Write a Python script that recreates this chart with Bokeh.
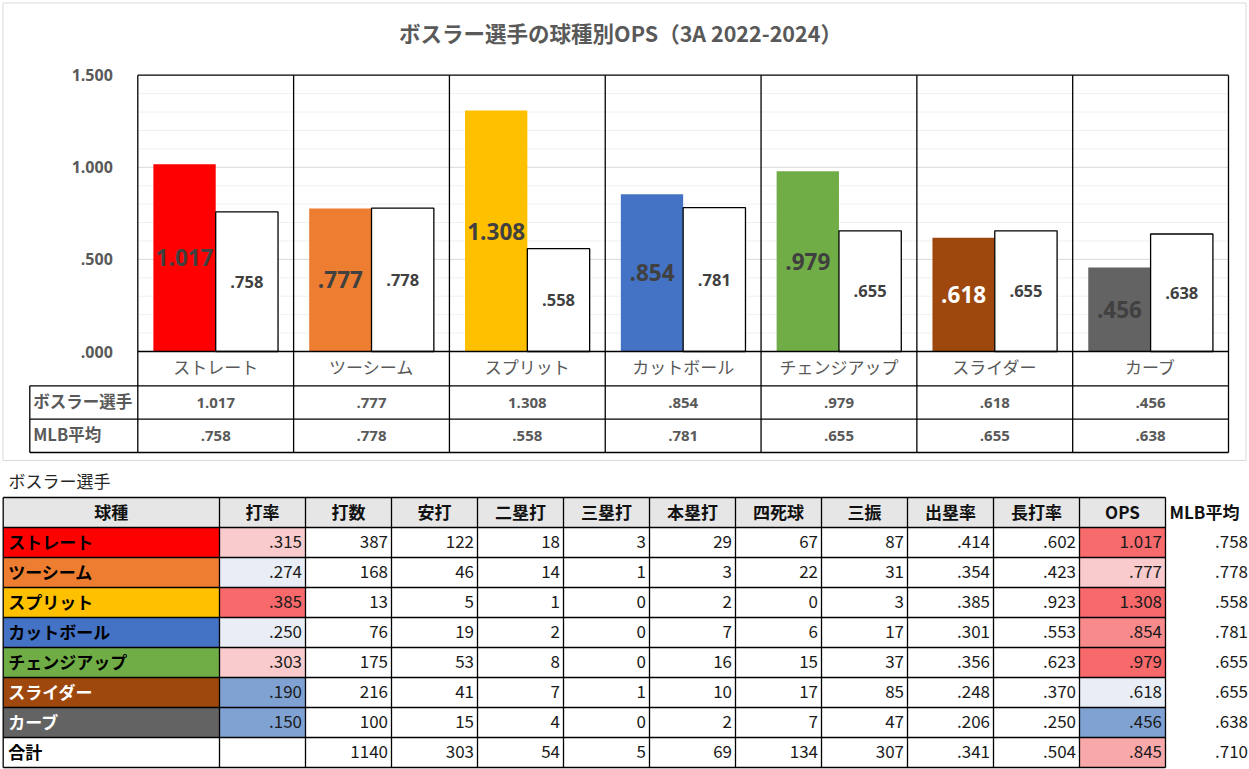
from bokeh.plotting import figure
from bokeh.models import Range1d, LinearAxis, FixedTicker, CustomJSTickFormatter, ColumnDataSource
from bokeh.core.properties import value
from bokeh.embed import file_html
from bokeh.resources import INLINE

# ---------------- data ----------------
title_text = "ボスラー選手の球種別OPS（3A 2022-2024）"
player_name = "ボスラー選手"
mlb_name = "MLB平均"
pitches = ["ストレート", "ツーシーム", "スプリット", "カットボール", "チェンジアップ", "スライダー", "カーブ"]
ops_player = [1.017, 0.777, 1.308, 0.854, 0.979, 0.618, 0.456]
ops_mlb = [0.758, 0.778, 0.558, 0.781, 0.655, 0.655, 0.638]
y_ticks = [0.0, 0.5, 1.0, 1.5]

table_headers = ["球種", "打率", "打数", "安打", "二塁打", "三塁打", "本塁打", "四死球", "三振", "出塁率", "長打率", "OPS"]
avg = [0.315, 0.274, 0.385, 0.250, 0.303, 0.190, 0.150]
at_bats = [387, 168, 13, 76, 175, 216, 100]
hits = [122, 46, 5, 19, 53, 41, 15]
doubles = [18, 14, 1, 2, 8, 7, 4]
triples = [3, 1, 0, 0, 0, 1, 0]
homers = [29, 3, 2, 7, 16, 10, 2]
walks = [67, 22, 0, 6, 15, 17, 7]
strikeouts = [87, 31, 3, 17, 37, 85, 47]
obp = [0.414, 0.354, 0.385, 0.301, 0.356, 0.248, 0.206]
slg = [0.602, 0.423, 0.923, 0.553, 0.623, 0.370, 0.250]
total_label = "合計"
total_row = [None, 1140, 303, 54, 5, 69, 134, 307, 0.341, 0.504, 0.845]
total_mlb = 0.710

# ---------------- styles ----------------
pitch_colors = ["#FF0000", "#ED7D31", "#FFC000", "#4472C4", "#70AD47", "#9E480E", "#636363"]
pitch_text_colors = ["#000000"] * 5 + ["#FFFFFF", "#FFFFFF"]
bar_label_colors = ["#404040"] * 5 + ["#FFFFFF", "#404040"]
avg_fill = ["#F9CBCD", "#E9EEF6", "#F8696B", "#E9EEF6", "#F9CBCD", "#7FA2D3", "#7FA2D3"]
ops_fill = ["#F86B6D", "#F9CBCD", "#F8696B", "#F88A8C", "#F8696B", "#E9EEF6", "#7FA2D3"]
ops_total_fill = "#F9A8AA"
JP = value("Noto Sans CJK JP")
LAT = value("Open Sans")
GREY = "#595959"
DY = -1.5  # baseline nudge for CJK text


def fmt3(v):
    s = f"{v:.3f}"
    return s[1:] if s.startswith("0") else s


# ---------------- canvas (reference pixel space) ----------------
W, H = 1249, 769
REF_W, REF_H = 1249, 769
p = figure(width=W, height=H, x_range=Range1d(0, REF_W), y_range=Range1d(REF_H, 0),
           x_axis_type=None, y_axis_type=None, toolbar_location=None,
           output_backend="svg", min_border=0, outline_line_color=None,
           background_fill_color="white", border_fill_color="white")

# chart scales
PLOT_L, PLOT_R = 137.3, 1228.0
ZERO_Y, TOP_Y = 351.0, 74.7
YMAX = y_ticks[-1]
n = len(pitches)
cx = (PLOT_R - PLOT_L) / n
ky = (ZERO_Y - TOP_Y) / YMAX
p.extra_x_ranges = {"cat": Range1d(-PLOT_L / cx, (REF_W - PLOT_L) / cx)}
p.extra_y_ranges = {"ops": Range1d((ZERO_Y - REF_H) / ky, ZERO_Y / ky)}

# outer chart border
p.quad(left=[2.5], right=[1245.5], top=[2.5], bottom=[460], fill_color=None,
       line_color="#D9D9D9", line_width=1)

# title
p.text(x=[620], y=[33 + DY], text=[title_text], text_align="center", text_baseline="middle",
       text_font=JP, text_font_style="bold", text_font_size="21.5px", text_color=GREY)

# gridlines
minor = [round(0.1 * k, 1) for k in range(1, 15) if k % 5 != 0]
major = [t for t in y_ticks if 0 < t < YMAX]
p.segment(x0=[0] * len(minor), x1=[n] * len(minor), y0=minor, y1=minor, line_color="#F0F0F0",
          line_width=1, x_range_name="cat", y_range_name="ops")
p.segment(x0=[0] * len(major), x1=[n] * len(major), y0=major, y1=major, line_color="#D9D9D9",
          line_width=1, x_range_name="cat", y_range_name="ops")

# bars
idx = list(range(n))
src = ColumnDataSource(dict(
    xp=[i + 0.3 for i in idx], xm=[i + 0.7 for i in idx],
    op=ops_player, om=ops_mlb, color=pitch_colors,
    hp=[v / 2 for v in ops_player], hm=[v / 2 for v in ops_mlb],
    lp=[fmt3(v) for v in ops_player], lm=[fmt3(v) for v in ops_mlb],
    lc=bar_label_colors, cat=[i + 0.5 for i in idx], name=pitches))
p.vbar(x="xp", width=0.4, top="op", bottom=0, fill_color="color", line_color=None,
       source=src, x_range_name="cat", y_range_name="ops")
p.vbar(x="xm", width=0.4, top="om", bottom=0, fill_color="white", line_color="#000000",
       line_width=1.3, source=src, x_range_name="cat", y_range_name="ops")
p.text(x="xp", y="hp", text="lp", text_color="lc", text_align="center", text_baseline="middle",
       text_font=LAT, text_font_style="bold", text_font_size="22.5px", source=src,
       x_range_name="cat", y_range_name="ops")
p.text(x="xm", y="hm", text="lm", text_color="#404040", text_align="center", text_baseline="middle",
       text_font=LAT, text_font_style="bold", text_font_size="16.5px", source=src,
       x_range_name="cat", y_range_name="ops")

# frame lines (top / bottom of plot area)
p.segment(x0=[0, 0], x1=[n, n], y0=[YMAX, 0], y1=[YMAX, 0], line_color="black", line_width=1.3,
          x_range_name="cat", y_range_name="ops")

# y axis
yaxis = LinearAxis(y_range_name="ops", fixed_location=PLOT_L,
                   ticker=FixedTicker(ticks=y_ticks, minor_ticks=[]),
                   formatter=CustomJSTickFormatter(code="var s = tick.toFixed(3); return s.charAt(0) == '0' ? s.slice(1) : s;"),
                   axis_line_color=None, major_tick_line_color=None, minor_tick_line_color=None,
                   major_label_standoff=19, major_label_text_font="Open Sans",
                   major_label_text_font_style="bold", major_label_text_font_size="16px",
                   major_label_text_color=GREY)
p.add_layout(yaxis, "left")

# chart data table
ROW_CAT, ROW1, ROW2, TB = 385.3, 418.7, 452.0, 29.3
p.segment(x0=[i for i in range(n + 1)], x1=[i for i in range(n + 1)], y0=[TOP_Y] * (n + 1),
          y1=[ROW2] * (n + 1), line_color="black", line_width=1.3, x_range_name="cat")
p.segment(x0=[TB, TB, TB, TB], x1=[PLOT_R, PLOT_R, PLOT_R, TB], y0=[ROW_CAT, ROW1, ROW2, ROW_CAT],
          y1=[ROW_CAT, ROW1, ROW2, ROW2], line_color="black", line_width=1.3)
p.text(x="cat", y=367.5 + DY, text="name", text_align="center", text_baseline="middle", text_font=JP,
       text_font_size="17px", text_color=GREY, source=src, x_range_name="cat")
p.text(x="cat", y=(ROW_CAT + ROW1) / 2, text="lp", text_align="center", text_baseline="middle",
       text_font=LAT, text_font_style="bold", text_font_size="15px", text_color=GREY, source=src,
       x_range_name="cat")
p.text(x="cat", y=(ROW1 + ROW2) / 2, text="lm", text_align="center", text_baseline="middle",
       text_font=LAT, text_font_style="bold", text_font_size="15px", text_color=GREY, source=src,
       x_range_name="cat")
p.text(x=[TB + 3.5, TB + 3.5], y=[(ROW_CAT + ROW1) / 2 + DY, (ROW1 + ROW2) / 2 + DY],
       text=[player_name, mlb_name], text_align="left", text_baseline="middle", text_font=JP,
       text_font_style="bold", text_font_size="16.5px", text_color=GREY)

# ---------------- lower table ----------------
cols = [2.7, 219, 305, 391, 477, 563, 649, 735, 821, 907, 993, 1079, 1165]
T_TOP, RH = 497.0, 30.0
n_rows = 1 + n + 1
rows = [T_TOP + RH * j for j in range(n_rows + 1)]

p.text(x=[8], y=[481.5 + DY], text=[player_name], text_align="left", text_baseline="middle",
       text_font=JP, text_font_size="17px", text_color="#262626")

# fills
fl, fr, ft, fb, fc = [], [], [], [], []
def cell(ci, rj, color):
    fl.append(cols[ci]); fr.append(cols[ci + 1]); ft.append(rows[rj]); fb.append(rows[rj + 1]); fc.append(color)
for ci in range(len(table_headers)):
    cell(ci, 0, "#E7E6E6")
for r in range(n):
    cell(0, r + 1, pitch_colors[r])
    cell(1, r + 1, avg_fill[r])
    cell(11, r + 1, ops_fill[r])
cell(11, n + 1, ops_total_fill)
p.quad(left=fl, right=fr, top=ft, bottom=fb, fill_color=fc, line_color=None)

# grid lines
p.segment(x0=[cols[0]] * len(rows), x1=[cols[-1]] * len(rows), y0=rows, y1=rows,
          line_color="black", line_width=1.3)
p.segment(x0=cols, x1=cols, y0=[rows[0]] * len(cols), y1=[rows[-1]] * len(cols),
          line_color="black", line_width=1.3)

# header texts
centers = [(cols[c] + cols[c + 1]) / 2 for c in range(len(table_headers))]
hy = (rows[0] + rows[1]) / 2 + DY
p.text(x=centers, y=[hy] * len(centers), text=table_headers, text_align="center",
       text_baseline="middle", text_font=JP, text_font_style="bold", text_font_size="17px",
       text_color="#111111")
p.text(x=[1169], y=[hy], text=[mlb_name], text_align="left", text_baseline="middle",
       text_font=JP, text_font_style="bold", text_font_size="17px", text_color="#111111")

# first column labels
ry = [(rows[j] + rows[j + 1]) / 2 + DY for j in range(1, n_rows)]
p.text(x=[cols[0] + 5] * n_rows, y=ry, text=pitches + [total_label],
       text_color=pitch_text_colors + ["#000000"], text_align="left", text_baseline="middle",
       text_font=JP, text_font_style="bold", text_font_size="17px")

# numeric cells
series = [avg, at_bats, hits, doubles, triples, homers, walks, strikeouts, obp, slg, ops_player]
tx, ty, tt = [], [], []
for k, s in enumerate(series):
    vals = list(s) + [total_row[k]]
    for r, v in enumerate(vals):
        if v is None:
            continue
        tx.append(cols[k + 2] - 3.5)
        ty.append(ry[r])
        tt.append(fmt3(v) if isinstance(v, float) else str(v))
for r, v in enumerate(ops_mlb + [total_mlb]):
    tx.append(1247.5); ty.append(ry[r]); tt.append(fmt3(v))
p.text(x=tx, y=ty, text=tt, text_align="right", text_baseline="middle", text_font=JP,
       text_font_size="17px", text_color="#1a1a1a")

open("out.html", "w").write(file_html(p, INLINE))
